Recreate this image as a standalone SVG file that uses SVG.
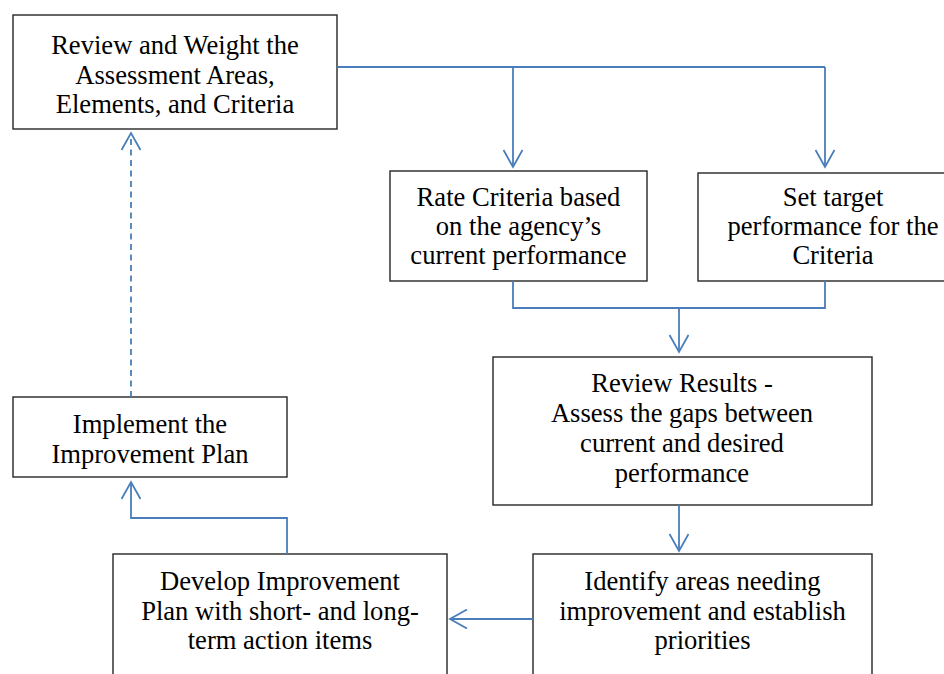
<svg xmlns="http://www.w3.org/2000/svg" width="944" height="674" viewBox="0 0 944 674">
<defs>
<style>
.box{fill:#fff;stroke:#262626;stroke-width:1.4}
.t{font-family:"Liberation Serif","Times New Roman",serif;font-size:26.6px;fill:#000;text-anchor:middle}
.c{fill:none;stroke:#4a7ebb;stroke-width:1.8}
.d{stroke-dasharray:6 4.5}
</style>
<marker id="ah" viewBox="0 0 20 20" refX="18" refY="10" markerWidth="20" markerHeight="20" markerUnits="userSpaceOnUse" orient="auto">
<path d="M1,0.5 L18,10 L1,19.5" fill="none" stroke="#4a7ebb" stroke-width="1.8"/>
</marker>
</defs>
<rect width="944" height="674" fill="#fff"/>
<g id="n1"><rect class="box" x="13" y="15" width="324" height="114"/>
<text class="t" x="175" y="54">Review and Weight the</text>
<text class="t" x="175" y="84">Assessment Areas,</text>
<text class="t" x="175" y="113">Elements, and Criteria</text></g>
<g id="n2"><rect class="box" x="390" y="171" width="257" height="110"/>
<text class="t" x="518.5" y="206">Rate Criteria based</text>
<text class="t" x="518.5" y="235">on the agency’s</text>
<text class="t" x="518.5" y="264">current performance</text></g>
<g id="n3"><rect class="box" x="698" y="173" width="270" height="108"/>
<text class="t" x="833" y="206">Set target</text>
<text class="t" x="833" y="235">performance for the</text>
<text class="t" x="833" y="264">Criteria</text></g>
<g id="n4"><rect class="box" x="493" y="357" width="379" height="148"/>
<text class="t" x="682" y="392">Review Results -</text>
<text class="t" x="682" y="422">Assess the gaps between</text>
<text class="t" x="682" y="452">current and desired</text>
<text class="t" x="682" y="482">performance</text></g>
<g id="n5"><rect class="box" x="533" y="554" width="339" height="140"/>
<text class="t" x="702.5" y="590">Identify areas needing</text>
<text class="t" x="702.5" y="620">improvement and establish</text>
<text class="t" x="702.5" y="649">priorities</text></g>
<g id="n6"><rect class="box" x="113" y="554" width="334" height="140"/>
<text class="t" x="280" y="590">Develop Improvement</text>
<text class="t" x="280" y="620">Plan with short- and long-</text>
<text class="t" x="280" y="649">term action items</text></g>
<g id="n7"><rect class="box" x="13" y="397" width="274" height="80"/>
<text class="t" x="150" y="433">Implement the</text>
<text class="t" x="150" y="463">Improvement Plan</text></g>
<g id="connectors">
<path class="c" d="M337,67 H825"/>
<path class="c" d="M513,67 V167" marker-end="url(#ah)"/>
<path class="c" d="M825,67 V167" marker-end="url(#ah)"/>
<path class="c" d="M513,281 V308 H825 V281"/>
<path class="c" d="M679,308 V352" marker-end="url(#ah)"/>
<path class="c" d="M679,505 V551" marker-end="url(#ah)"/>
<path class="c" d="M533,619 H450" marker-end="url(#ah)"/>
<path class="c" d="M287,554 V518 H131 V482" marker-end="url(#ah)"/>
<path class="c d" d="M131,397 V133" marker-end="url(#ah)"/>
</g>
</svg>
